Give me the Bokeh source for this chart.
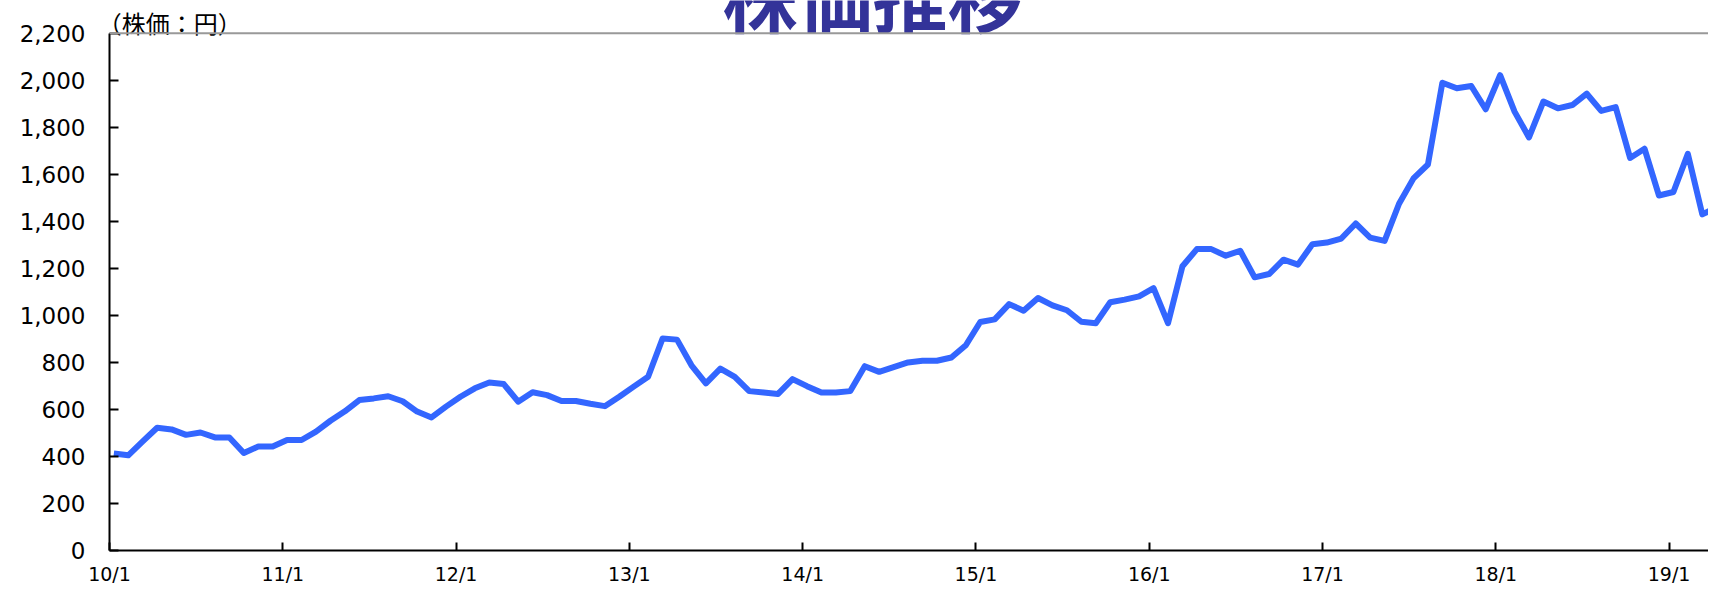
from bokeh.plotting import figure
from bokeh.models import Range1d, FixedTicker, NumeralTickFormatter, Span, ColumnDataSource
from bokeh.core.properties import value
from bokeh.embed import file_html
from bokeh.resources import INLINE

# Monthly share price (yen), Jan 2010 onward
price = [
    413, 405, 464, 522, 515, 492, 502, 481, 481, 415, 442, 442,      # 2010
    470, 470, 506, 552, 592, 640, 647, 656, 635, 591, 566, 612,      # 2011
    654, 690, 715, 708, 633, 673, 661, 636, 636, 624, 614, 654,      # 2012
    697, 739, 902, 897, 788, 711, 774, 739, 678, 672, 666, 729,      # 2013
    699, 672, 672, 678, 784, 760, 780, 800, 807, 807, 821, 873,      # 2014
    972, 983, 1048, 1020, 1074, 1043, 1022, 973, 967, 1056, 1067, 1081,  # 2015
    1116, 967, 1209, 1282, 1282, 1254, 1275, 1162, 1176, 1237, 1216, 1303,  # 2016
    1310, 1327, 1391, 1331, 1317, 1475, 1583, 1642, 1990, 1966, 1976, 1877,  # 2017
    2022, 1867, 1757, 1910, 1881, 1895, 1943, 1870, 1886, 1670, 1709, 1510,  # 2018
    1525, 1687, 1430, 1460,                                          # 2019
]
months = [f"{2010 + i // 12}/{i % 12 + 1}" for i in range(len(price))]
tick_labels = ["10/1", "11/1", "12/1", "13/1", "14/1", "15/1", "16/1", "17/1", "18/1", "19/1"]
y_ticks = [0, 200, 400, 600, 800, 1000, 1200, 1400, 1600, 1800, 2000, 2200]
title_text = ["株価推移"]
unit_text = ["（株価：円）"]

X0 = -0.3
Y_MAX = 2200
Y_TOP = 2339.6   # canvas top, above the chart's 2,200 border

src = ColumnDataSource(dict(x=list(range(len(price))), y=price, m=months))

p = figure(width=1708, height=587, output_backend="svg", toolbar_location=None,
           x_range=Range1d(X0, 110.43), y_range=Range1d(0, Y_TOP),
           min_border_left=109, min_border_right=0, min_border_top=0, min_border_bottom=34)
p.outline_line_color = None
p.grid.grid_line_color = None
p.background_fill_color = "white"
p.border_fill_color = "white"

p.line("x", "y", source=src, line_color="#3366FF", line_width=6, line_join="round")

# top border of the chart area
p.add_layout(Span(location=Y_MAX, dimension="width", line_color="#999999", line_width=2))

tick_pos = [12 * k + X0 for k in range(len(tick_labels))]
p.xaxis.ticker = FixedTicker(ticks=tick_pos)
p.xaxis.major_label_overrides = {t: l for t, l in zip(tick_pos, tick_labels)}
p.xaxis.minor_tick_line_color = None
p.xaxis.major_tick_in = 8
p.xaxis.major_tick_out = 0
p.xaxis.axis_line_width = 2
p.xaxis.axis_line_color = "black"
p.xaxis.major_tick_line_width = 2
p.xaxis.major_label_text_font = "DejaVu Sans"
p.xaxis.major_label_text_font_size = "19px"
p.xaxis.major_label_text_color = "black"
p.xaxis.major_label_standoff = 12

p.yaxis.ticker = FixedTicker(ticks=y_ticks)
p.yaxis.bounds = (0, Y_MAX)
p.yaxis.formatter = NumeralTickFormatter(format="0,0")
p.yaxis.minor_tick_line_color = None
p.yaxis.major_tick_in = 9
p.yaxis.major_tick_out = 0
p.yaxis.axis_line_width = 2
p.yaxis.axis_line_color = "black"
p.yaxis.major_tick_line_width = 2
p.yaxis.major_label_text_font = "DejaVu Sans"
p.yaxis.major_label_text_font_size = "23px"
p.yaxis.major_label_text_color = "black"
p.yaxis.major_label_standoff = 24

p.text(x=[52.54], y=[2365], text=title_text, text_align="center", text_baseline="middle",
       text_font=value("Noto Sans CJK JP"), text_font_style="bold", text_font_size=value("75px"),
       text_color="#333399")
p.text(x=[-1.12], y=[2244], text=unit_text, text_align="left", text_baseline="middle",
       text_font=value("Noto Sans CJK JP"), text_font_size=value("24px"), text_color="black")

open("out.html", "w").write(file_html(p, INLINE))
